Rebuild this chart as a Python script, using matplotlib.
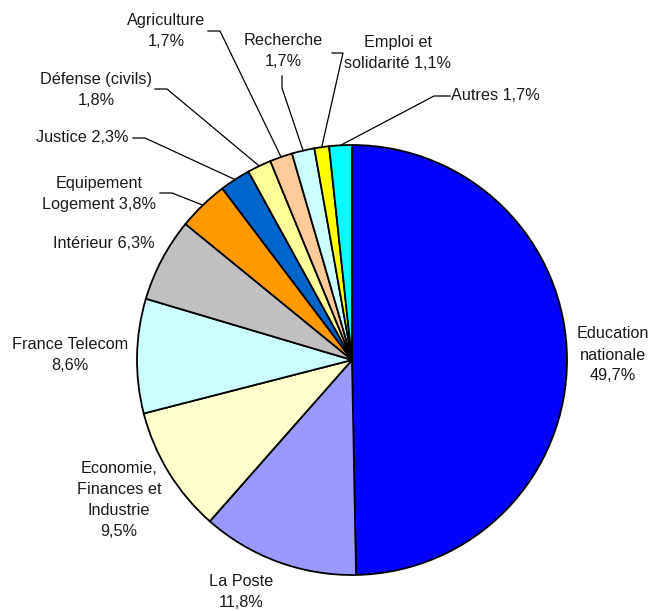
import numpy as np
import matplotlib.pyplot as plt

plt.rcParams['font.family'] = ['Liberation Sans', 'DejaVu Sans']

# Data
labels = ['Education\nnationale\n49,7%', 'La Poste\n11,8%',
          'Economie,\nFinances et\nIndustrie\n9,5%', 'France Telecom\n8,6%',
          'Intérieur 6,3%', 'Equipement\nLogement 3,8%', 'Justice 2,3%',
          'Défense (civils)\n1,8%', 'Agriculture\n1,7%', 'Recherche\n1,7%',
          'Emploi et\nsolidarité 1,1%', 'Autres 1,7%']
values = [49.7, 11.8, 9.5, 8.6, 6.3, 3.8, 2.3, 1.8, 1.7, 1.7, 1.1, 1.7]
colors = ['#0000FF', '#9999FF', '#FFFFCC', '#CCFFFF', '#C0C0C0', '#FF9900',
          '#0066CC', '#FFFF99', '#FFCC99', '#CCFFFF', '#FFFF00', '#00FFFF']

W, H = 651, 611
fig = plt.figure(figsize=(W / 100, H / 100), dpi=100)
ax = fig.add_axes([0, 0, 1, 1])

cx, cy, r = 352, H - 360, 215
wedges, _ = ax.pie(values, colors=colors, startangle=90, counterclock=False,
                   center=(cx, cy), radius=r, frame=True,
                   wedgeprops=dict(edgecolor='black', linewidth=1.3))
ax.set_xlim(0, W)
ax.set_ylim(0, H)
ax.set_aspect('equal')
ax.axis('off')

# label placement (pixel coords from the top-left), alignment, leader elbow
layout = [
    (613, 355, 'center', None),
    (241, 592, 'center', None),
    (119, 500, 'center', None),
    (70, 355, 'center', None),
    (104, 244, 'center', None),
    (99, 194, 'center', [(160, 193), (172, 193)]),
    (129, 138, 'right', [(133, 138), (145, 138)]),
    (96, 90, 'center', [(155, 89), (167, 89)]),
    (166, 31, 'center', [(208, 31), (220, 31)]),
    (283, 51, 'center', [(282, 76), (282, 88)]),
    (398, 53, 'center', [(332, 53), (343, 53)]),
    (451, 96, 'left', [(434, 96), (450, 96)]),
]

total = sum(values)
cum = np.cumsum([0] + values)
for i, (lab, (tx, ty, ha, elbow)) in enumerate(zip(labels, layout)):
    ax.text(tx, H - ty, lab, ha=ha, va='center', fontsize=11.7,
            color='#1a1a1a', linespacing=1.5)
    if elbow:
        mid = (cum[i] + cum[i + 1]) / 2 / total * 2 * np.pi
        ex = cx + r * np.sin(mid)
        ey = cy + r * np.cos(mid)
        xs = [elbow[0][0], elbow[1][0]]
        ys = [H - elbow[0][1], H - elbow[1][1]]
        if ha == 'left':
            xs = xs[::-1]
            ys = ys[::-1]
        ax.plot(xs + [ex], ys + [ey], color='black', linewidth=0.9)

fig.savefig('out.png', dpi=100)
